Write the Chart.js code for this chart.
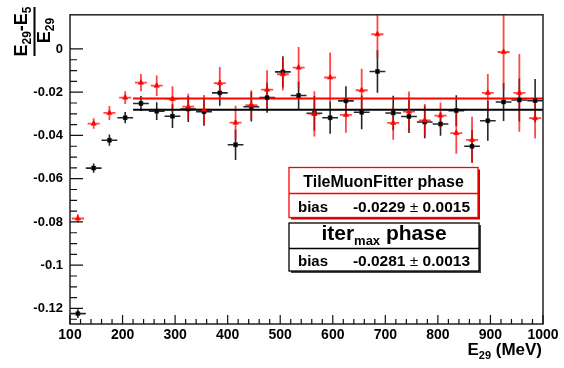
<!DOCTYPE html>
<html><head><meta charset="utf-8">
<script src="https://cdn.jsdelivr.net/npm/chart.js@4.4.0/dist/chart.umd.min.js"></script>
<style>html,body{margin:0;padding:0;background:#fff;} #wrap{width:564px;height:368px;}</style>
</head><body><div id="wrap"><canvas id="c" width="564" height="368"></canvas></div>
<script>
// ---- data ----
const energies = [115,145,175,205,235,265,295,325,355,385,415,445,475,505,535,565,595,625,655,685,715,745,775,805,835,865,895,925,955,985];
const tmfBias = [-0.0784,-0.0345,-0.0296,-0.0225,-0.0156,-0.0170,-0.0231,-0.0267,-0.0281,-0.0158,-0.0341,-0.0260,-0.0188,-0.0117,-0.0086,-0.0300,-0.0132,-0.0305,-0.0191,0.0068,-0.0342,-0.0290,-0.0330,-0.0308,-0.0389,-0.0420,-0.0203,-0.0014,-0.0203,-0.0320];
const tmfErr = [0.0020,0.0024,0.0032,0.0030,0.0040,0.0047,0.0059,0.0060,0.0068,0.0075,0.0078,0.0069,0.0089,0.0075,0.0095,0.0105,0.0116,0.0083,0.0100,0.0110,0.0078,0.0093,0.0075,0.0060,0.0096,0.0107,0.0087,0.0175,0.0180,0.0094];
const iterBias = [-0.1224,-0.0551,-0.0422,-0.0318,-0.0252,-0.0288,-0.0311,-0.0278,-0.0290,-0.0203,-0.0443,-0.0267,-0.0225,-0.0106,-0.0215,-0.0297,-0.0318,-0.0240,-0.0293,-0.0104,-0.0296,-0.0312,-0.0338,-0.0347,-0.0285,-0.0450,-0.0332,-0.0245,-0.0236,-0.0239];
const iterErr = [0.0020,0.0021,0.0026,0.0026,0.0035,0.0041,0.0055,0.0060,0.0065,0.0060,0.0071,0.0068,0.0070,0.0072,0.0063,0.0080,0.0074,0.0068,0.0078,0.0098,0.0080,0.0077,0.0075,0.0054,0.0071,0.0075,0.0092,0.0088,0.0099,0.0100];
const binHalfWidth = 15;
const xTickValues = [100,200,300,400,500,600,700,800,900,1000];
const yTickValues = [0,-0.02,-0.04,-0.06,-0.08,-0.1,-0.12];
const fitRange = [220, 1000];
const tmfFit = -0.0229, tmfFitErr = 0.0015;
const iterFit = -0.0281, iterFitErr = 0.0013;

const FONT = "'Liberation Sans', Arial, Helvetica, sans-serif";
const RED = 'rgb(255,0,0)';

function drawRich(ctx, parts, x, y, align) {
  let w = 0;
  parts.forEach(p => { ctx.font = (p.normal ? '' : 'bold ') + p.size + 'px ' + FONT; p.w = ctx.measureText(p.t).width; w += p.w; });
  let cx = align === 'center' ? x - w / 2 : (align === 'right' ? x - w : x);
  ctx.textAlign = 'left'; ctx.textBaseline = 'alphabetic';
  parts.forEach(p => { ctx.font = (p.normal ? '' : 'bold ') + p.size + 'px ' + FONT; ctx.fillText(p.t, cx, y + (p.dy || 0)); cx += p.w; });
}

const errorBars = {
  id: 'errorBars',
  beforeDatasetsDraw(chart) {
    const ctx = chart.ctx, xs = chart.scales.x, ys = chart.scales.y, a = chart.chartArea;
    ctx.save();
    ctx.beginPath(); ctx.rect(a.left, a.top, a.right - a.left, a.bottom - a.top); ctx.clip();
    function bars(vals, errs, color, width, dash) {
      ctx.strokeStyle = color; ctx.lineWidth = width;
      energies.forEach((e, i) => {
        const px = xs.getPixelForValue(e), py = ys.getPixelForValue(vals[i]);
        ctx.setLineDash([]);
        ctx.beginPath();
        ctx.moveTo(px, ys.getPixelForValue(vals[i] - errs[i]));
        ctx.lineTo(px, ys.getPixelForValue(vals[i] + errs[i]));
        ctx.stroke();
        ctx.setLineDash(dash);
        ctx.beginPath();
        ctx.moveTo(px - 2, py); ctx.lineTo(xs.getPixelForValue(e - binHalfWidth), py);
        ctx.moveTo(px + 2, py); ctx.lineTo(xs.getPixelForValue(e + binHalfWidth), py);
        ctx.stroke();
      });
    }
    bars(iterBias, iterErr, 'rgba(0,0,0,0.85)', 1.6, []);
    bars(tmfBias, tmfErr, 'rgba(255,0,0,0.72)', 1.8, [4, 2]);
    ctx.restore();
  }
};

const frameAndDecor = {
  id: 'frameAndDecor',
  afterDraw(chart) {
    const ctx = chart.ctx, xs = chart.scales.x, ys = chart.scales.y, a = chart.chartArea;
    ctx.save();
    // frame
    ctx.strokeStyle = '#222'; ctx.lineWidth = 1.5; ctx.setLineDash([]);
    ctx.strokeRect(a.left, a.top, a.right - a.left, a.bottom - a.top);
    // inward ticks
    ctx.lineWidth = 1.2; ctx.strokeStyle = '#111';
    ctx.beginPath();
    for (let v = 100; v <= 1000.001; v += 20) {
      const px = xs.getPixelForValue(v);
      const major = Math.abs(v % 100) < 0.01;
      ctx.moveTo(px, a.bottom); ctx.lineTo(px, a.bottom - (major ? 9 : 5));
    }
    for (let k = 0; k <= 25; k++) {
      const v = -0.125 + k * 0.005;
      const py = ys.getPixelForValue(v);
      const major = k % 4 === 1;
      ctx.moveTo(a.left, py); ctx.lineTo(a.left + (major ? 13 : 7), py);
    }
    ctx.stroke();

    ctx.fillStyle = '#000';
    // x title
    drawRich(ctx, [{t:'E', size:17}, {t:'29', size:11, dy:4}, {t:' (MeV)', size:17}], 542, 355, 'right');
    // y title (rotated fraction)
    ctx.save();
    ctx.rotate(-Math.PI / 2);
    drawRich(ctx, [{t:'E', size:18}, {t:'29', size:12, dy:4}, {t:'-E', size:18}, {t:'5', size:12, dy:4}], -31.5, 27, 'center');
    drawRich(ctx, [{t:'E', size:18}, {t:'29', size:12, dy:4}], -30.5, 50, 'center');
    ctx.lineWidth = 2; ctx.strokeStyle = '#000';
    ctx.beginPath(); ctx.moveTo(-56, 34.5); ctx.lineTo(-7, 34.5); ctx.stroke();
    ctx.restore();

    // legend boxes
    function box(x, y, w, h, divY, color, shadow) {
      ctx.fillStyle = shadow; ctx.fillRect(x + 2, y + 2, w, h);
      ctx.fillStyle = '#fff'; ctx.fillRect(x, y, w, h);
      ctx.strokeStyle = color; ctx.lineWidth = 1.3;
      ctx.strokeRect(x, y, w, h);
      ctx.beginPath(); ctx.moveTo(x, divY); ctx.lineTo(x + w, divY); ctx.stroke();
    }
    box(289, 167.5, 189, 50, 193.5, RED, 'rgb(200,0,0)');
    box(289, 223, 190, 48, 248.5, '#000', '#444');
    ctx.fillStyle = '#000';
    drawRich(ctx, [{t:'TileMuonFitter phase', size:16}], 383.5, 186.5, 'center');
    drawRich(ctx, [{t:'bias', size:15}], 298, 211.5, 'left');
    drawRich(ctx, [{t:tmfFit.toFixed(4), size:15.5}, {t:' \u00b1 ', size:15.5, normal:true}, {t:tmfFitErr.toFixed(4), size:15.5}], 470, 211.5, 'right');
    drawRich(ctx, [{t:'iter', size:21}, {t:'max', size:13, dy:5}, {t:' phase', size:21}], 384, 240, 'center');
    drawRich(ctx, [{t:'bias', size:15}], 298, 265.5, 'left');
    drawRich(ctx, [{t:iterFit.toFixed(4), size:15.5}, {t:' \u00b1 ', size:15.5, normal:true}, {t:iterFitErr.toFixed(4), size:15.5}], 470, 265.5, 'right');
    ctx.restore();
  }
};

new Chart(document.getElementById('c'), {
  type: 'scatter',
  data: {
    datasets: [
      { label: 'TileMuonFitter phase', data: energies.map((e, i) => ({x: e, y: tmfBias[i]})),
        pointStyle: 'triangle', radius: 3.2, backgroundColor: RED, borderColor: RED, borderWidth: 0.5 },
      { label: 'iter_max phase', data: energies.map((e, i) => ({x: e, y: iterBias[i]})),
        pointStyle: 'rect', radius: 2.8, backgroundColor: '#000', borderColor: '#000', borderWidth: 0.5 },
      { type: 'line', label: 'fit TMF', data: fitRange.map(x => ({x, y: tmfFit})),
        borderColor: RED, borderWidth: 2, pointRadius: 0, showLine: true, fill: false },
      { type: 'line', label: 'fit iter', data: fitRange.map(x => ({x, y: iterFit})),
        borderColor: '#000', borderWidth: 2, pointRadius: 0, showLine: true, fill: false }
    ]
  },
  options: {
    responsive: false, animation: false,
    layout: { padding: { left: 0, right: 21, top: 7, bottom: 0 } },
    plugins: { legend: { display: false }, tooltip: { enabled: false } },
    scales: {
      x: { type: 'linear', min: 100, max: 1000,
        afterBuildTicks: s => { s.ticks = xTickValues.map(v => ({ value: v })); },
        ticks: { callback: v => String(v), font: { family: FONT, size: 14, weight: 'bold' }, color: '#000', padding: 3, maxRotation: 0, autoSkip: false },
        grid: { display: false, drawTicks: false }, border: { display: false },
        afterFit: s => { s.height = 44; } },
      y: { type: 'linear', min: -0.1272, max: 0.0158,
        afterBuildTicks: s => { s.ticks = yTickValues.map(v => ({ value: v })); },
        ticks: { callback: v => String(v), font: { family: FONT, size: 13, weight: 'bold' }, color: '#000', padding: 7, autoSkip: false },
        grid: { display: false, drawTicks: false }, border: { display: false },
        afterFit: s => { s.width = 70; } }
    }
  },
  plugins: [errorBars, frameAndDecor]
});
</script>
</body></html>
